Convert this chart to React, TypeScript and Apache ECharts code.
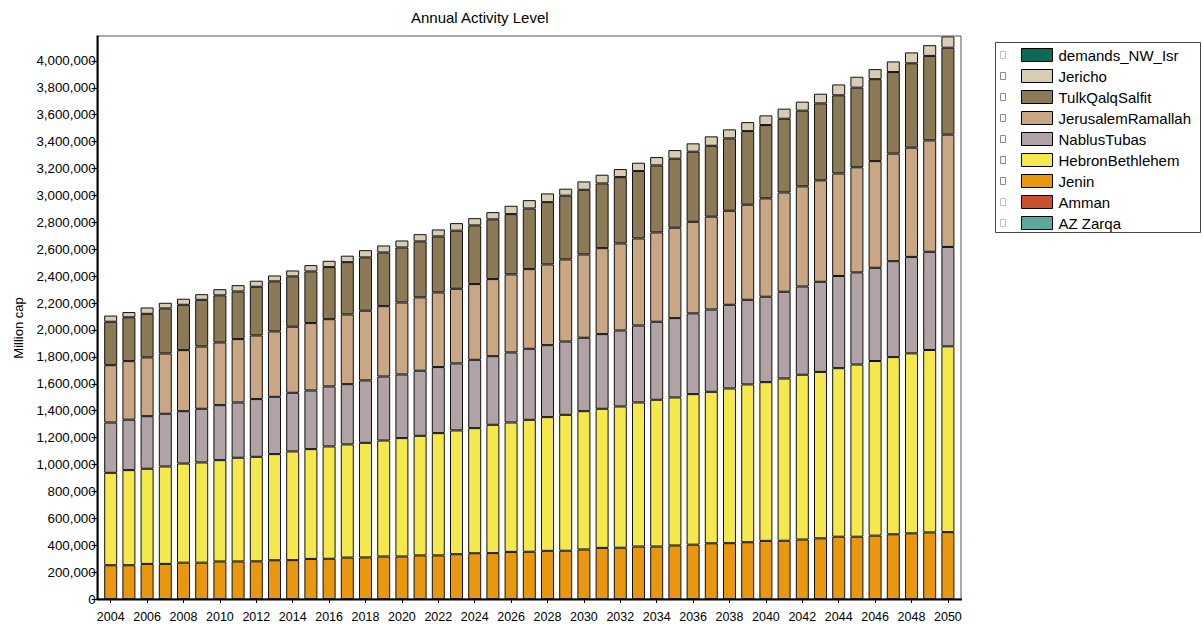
import React, { useEffect, useRef } from "react";
import * as echarts from "echarts";

const years = [
  "2004", "2005", "2006", "2007", "2008", "2009", "2010", "2011", "2012", "2013",
  "2014", "2015", "2016", "2017", "2018", "2019", "2020", "2021", "2022", "2023",
  "2024", "2025", "2026", "2027", "2028", "2029", "2030", "2031", "2032", "2033",
  "2034", "2035", "2036", "2037", "2038", "2039", "2040", "2041", "2042", "2043",
  "2044", "2045", "2046", "2047", "2048", "2049", "2050",
];

// values in thousands of people
const jenin = [
  251, 251, 261, 261, 270, 270, 279, 279, 280, 288,
  289, 298, 299, 308, 309, 316, 316, 324, 324, 333,
  340, 341, 350, 351, 358, 359, 368, 380, 381, 390,
  390, 398, 404, 414, 415, 422, 432, 433, 442, 451,
  463, 463, 471, 481, 488, 495, 497,
];
const hebronBethlehem = [
  687, 707, 707, 724, 737, 745, 753, 771, 777, 789,
  808, 816, 835, 841, 852, 862, 880, 889, 909, 920,
  930, 954, 962, 981, 994, 1010, 1028, 1034, 1050, 1071,
  1091, 1100, 1119, 1126, 1150, 1173, 1180, 1206, 1225, 1237,
  1253, 1280, 1298, 1317, 1338, 1356, 1381,
];
const nablusTubas = [
  374, 375, 391, 392, 389, 399, 409, 411, 429, 426,
  436, 436, 446, 448, 464, 476, 473, 484, 491, 498,
  508, 510, 521, 528, 535, 545, 546, 555, 565, 572,
  580, 590, 600, 612, 622, 629, 635, 645, 656, 670,
  685, 685, 693, 713, 717, 730, 739,
];
const jerusalemRamallah = [
  426, 435, 437, 448, 454, 463, 466, 471, 473, 486,
  491, 501, 500, 518, 518, 523, 535, 545, 555, 555,
  563, 573, 580, 592, 600, 610, 619, 639, 647, 647,
  664, 672, 681, 690, 699, 707, 731, 738, 744, 754,
  762, 781, 793, 800, 812, 828, 835,
];
const tulkQalqSalfit = [
  323, 326, 324, 335, 337, 347, 350, 354, 362, 372,
  374, 384, 387, 389, 396, 399, 409, 416, 416, 432,
  436, 444, 448, 451, 463, 474, 481, 481, 493, 501,
  498, 513, 521, 527, 538, 547, 545, 548, 563, 572,
  581, 592, 609, 606, 627, 628, 646,
];
const jericho = [
  46, 39, 47, 42, 45, 42, 46, 47, 45, 44,
  44, 47, 47, 48, 54, 52, 52, 54, 52, 56,
  54, 54, 62, 62, 65, 52, 62, 65, 60, 62,
  62, 64, 62, 70, 67, 67, 72, 75, 67, 72,
  81, 81, 75, 79, 81, 80, 84,
];
const zeros = [
  0, 0, 0, 0, 0, 0, 0, 0, 0, 0,
  0, 0, 0, 0, 0, 0, 0, 0, 0, 0,
  0, 0, 0, 0, 0, 0, 0, 0, 0, 0,
  0, 0, 0, 0, 0, 0, 0, 0, 0, 0,
  0, 0, 0, 0, 0, 0, 0,
];

const legendOrder = [
  "demands_NW_Isr", "Jericho", "TulkQalqSalfit", "JerusalemRamallah",
  "NablusTubas", "HebronBethlehem", "Jenin", "Amman", "AZ Zarqa",
];

// bottom to top stacking order
const seriesDefs = [
  { name: "AZ Zarqa", data: zeros, color: "#5aa8a0" },
  { name: "Amman", data: zeros, color: "#c8502e" },
  { name: "Jenin", data: jenin, color: "#e8970e" },
  { name: "HebronBethlehem", data: hebronBethlehem, color: "#f5e84c" },
  { name: "NablusTubas", data: nablusTubas, color: "#b0a2a5" },
  { name: "JerusalemRamallah", data: jerusalemRamallah, color: "#c9a684" },
  { name: "TulkQalqSalfit", data: tulkQalqSalfit, color: "#8b7a55" },
  { name: "Jericho", data: jericho, color: "#d8ccb4" },
  { name: "demands_NW_Isr", data: zeros, color: "#0a6a54" },
];

const FONT = "Arial, 'Liberation Sans', sans-serif";

export default function App() {
  const ref = useRef<HTMLDivElement>(null);

  useEffect(() => {
    if (!ref.current) return;
    const chart = echarts.init(ref.current, null, { renderer: "svg" });

    const colorOf: Record<string, string> = {};
    seriesDefs.forEach((s) => (colorOf[s.name] = s.color));

    const checkboxes = legendOrder.map((name, i) => ({
      type: "rect",
      shape: { x: 1000.5, y: 51.5 + i * 21, width: 5, height: 7 },
      style: { fill: "#fff", stroke: i === 0 || i >= 7 ? "#c0c0c0" : "#8a8a8a", lineWidth: 1 },
      silent: true,
    }));

    chart.setOption({
      animation: false,
      backgroundColor: "#fff",
      textStyle: { fontFamily: FONT },
      title: {
        text: "Annual Activity Level",
        left: 411,
        top: 10,
        padding: 0,
        textStyle: { fontSize: 15, fontWeight: "normal", color: "#000", fontFamily: FONT },
      },
      grid: { left: 101.6, top: 36, width: 855.4, height: 563 },
      legend: {
        orient: "vertical",
        left: 1021,
        top: 47.5,
        padding: 0,
        itemWidth: 31,
        itemHeight: 13,
        itemGap: 6,
        icon: "rect",
        selectedMode: false,
        textStyle: { fontSize: 15, lineHeight: 15, color: "#000", fontFamily: FONT, padding: [0, 0, 0, 1] },
        data: legendOrder.map((n) => ({
          name: n,
          itemStyle: { color: colorOf[n], borderColor: "#000", borderWidth: 1 },
        })),
      },
      xAxis: {
        type: "category",
        data: years,
        boundaryGap: true,
        axisLine: { show: false },
        axisTick: {
          show: true,
          interval: 1,
          alignWithLabel: true,
          length: 4,
          lineStyle: { color: "#000" },
        },
        axisLabel: { interval: 1, fontSize: 12.5, color: "#000", margin: 11, fontFamily: FONT },
        splitLine: { show: false },
      },
      yAxis: {
        type: "value",
        min: 0,
        max: 4185000,
        interval: 200000,
        offset: 4,
        axisLine: { show: false },
        axisTick: { show: true, length: 6, lineStyle: { color: "#000" } },
        axisLabel: {
          fontSize: 13.3,
          color: "#000",
          margin: 2,
          showMaxLabel: false,
          fontFamily: FONT,
          formatter: (v: number) => (v % 200000 === 0 ? v.toLocaleString("en-US") : ""),
        },
        splitLine: { show: false },
      },
      series: seriesDefs.map((s) => ({
        name: s.name,
        type: "bar",
        stack: "total",
        barWidth: 13,
        data: s.data.map((v) => v * 1000),
        itemStyle: {
          color: s.color,
          borderColor: "#111",
          borderWidth: s.data === zeros ? 0 : 1,
        },
        emphasis: { disabled: true },
      })),
      graphic: [
        {
          type: "rect",
          shape: { x: 98, y: 36, width: 863, height: 563 },
          style: { fill: "none", stroke: "#555", lineWidth: 1 },
          silent: true,
          z: 100,
        },
        {
          type: "line",
          shape: { x1: 97.5, y1: 35.5, x2: 97.5, y2: 600 },
          style: { stroke: "#000", lineWidth: 2 },
          silent: true,
          z: 101,
        },
        {
          type: "line",
          shape: { x1: 96.5, y1: 599.5, x2: 962, y2: 599.5 },
          style: { stroke: "#000", lineWidth: 2 },
          silent: true,
          z: 101,
        },
        {
          type: "rect",
          shape: { x: 995.5, y: 42.5, width: 205, height: 190 },
          style: { fill: "none", stroke: "#444", lineWidth: 1 },
          silent: true,
        },
        ...checkboxes,
        {
          type: "text",
          x: 18,
          y: 328,
          rotation: Math.PI / 2,
          style: {
            text: "Million cap",
            fontSize: 13,
            fill: "#000",
            fontFamily: FONT,
            align: "center",
            verticalAlign: "middle",
          },
          silent: true,
        },
      ],
    });

    return () => chart.dispose();
  }, []);

  return <div ref={ref} style={{ width: 1203, height: 624, position: "absolute", left: 0, top: 0 }} />;
}
